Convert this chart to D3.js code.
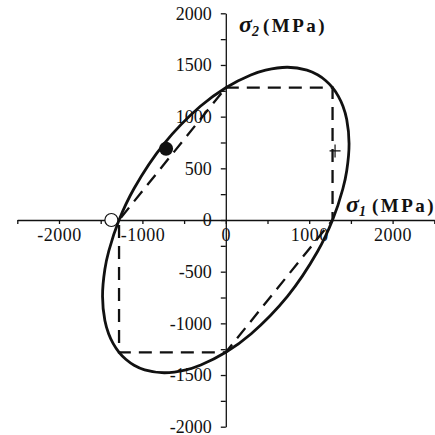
<!DOCTYPE html>
<html lang="en">
<head>
    <meta charset="UTF-8">
    <title>Yield criteria</title>
    <script src="https://d3js.org/d3.v7.min.js"></script>
    <style>
        body { margin: 0; background: #fff; }
        svg text { font-family: "Liberation Serif", "Times New Roman", serif; fill: #111; }
        .axis path, .axis line { stroke: #111; stroke-width: 1.3; }
    </style>
</head>
<body>
<div id="chart"></div>
<script>
    // von Mises ellipse (MPa)
    const vonMisesS1 = [1280, 1403, 1450, 1478, 1450, 1405, 1350, 1280, 1196, 1100, 973, 739, 477, 300, 0, -305, -739, -1100,
        -1280, -1403, -1450, -1478, -1450, -1405, -1350, -1280, -1196, -1100, -973, -739, -477, -300, 0, 305, 739, 1100];
    const vonMisesS2 = [0, 300, 477, 739, 973, 1100, 1196, 1280, 1350, 1405, 1450, 1478, 1450, 1403, 1280, 1100, 739, 305,
        0, -300, -477, -739, -973, -1100, -1196, -1280, -1350, -1405, -1450, -1478, -1450, -1403, -1280, -1100, -739, -305];

    // Tresca hexagon corners
    const trescaS1 = [0, 1280, 1280, 0, -1280, -1280];
    const trescaS2 = [1280, 1280, 0, -1280, -1280, 0];

    // single markers
    const filledPoint = [-716, 690];
    const openPoint = [-1372, 0];
    const crossPoint = [1310, 668];

    const xTickValues = [-2500, -2000, -1500, -1000, -500, 0, 500, 1000, 1500, 2000, 2500];
    const xTickLabels = [-2000, -1000, 0, 1000, 2000];
    const yTickValues = [-2000, -1750, -1500, -1250, -1000, -750, -500, -250, 0, 250, 500, 750, 1000, 1250, 1500, 1750, 2000];
    const yTickLabels = [-2000, -1500, -1000, -500, 0, 500, 1000, 1500, 2000];

    const width = 435, height = 435;

    const svg = d3.select("#chart").append("svg")
        .attr("width", width)
        .attr("height", height);

    const x = d3.scaleLinear().domain([-2500, 2500]).range([17.3, 434.3]);
    const y = d3.scaleLinear().domain([-2000, 2000]).range([426.7, 13.3]);

    // axes cross at origin
    svg.append("g")
        .attr("class", "axis")
        .attr("transform", `translate(0,${y(0)})`)
        .call(d3.axisBottom(x)
            .tickValues(xTickValues)
            .tickSize(4)
            .tickSizeOuter(0)
            .tickPadding(4)
            .tickFormat(d => xTickLabels.includes(d) ? d : ""))
        .call(g => g.selectAll("text").attr("font-size", 18).attr("letter-spacing", 0.5));

    svg.append("g")
        .attr("class", "axis")
        .attr("transform", `translate(${x(0)},0)`)
        .call(d3.axisLeft(y)
            .tickValues(yTickValues)
            .tickSize(5)
            .tickSizeOuter(0)
            .tickPadding(9)
            .tickFormat(d => yTickLabels.includes(d) ? d : ""))
        .call(g => g.selectAll("text").attr("font-size", 18));

    svg.selectAll(".axis .domain").attr("fill", "none");

    // Tresca (dashed)
    const tresca = trescaS1.map((s, i) => [s, trescaS2[i]]);
    svg.append("path")
        .datum(tresca)
        .attr("fill", "none")
        .attr("stroke", "#111")
        .attr("stroke-width", 2.3)
        .attr("stroke-dasharray", "13,8")
        .attr("d", d3.line().x(d => x(d[0])).y(d => y(d[1])).curve(d3.curveLinearClosed));

    // von Mises (solid)
    const mises = vonMisesS1.map((s, i) => [s, vonMisesS2[i]]);
    svg.append("path")
        .datum(mises)
        .attr("fill", "none")
        .attr("stroke", "#111")
        .attr("stroke-width", 2.8)
        .attr("d", d3.line().x(d => x(d[0])).y(d => y(d[1])).curve(d3.curveCatmullRomClosed));

    // markers
    svg.append("circle")
        .attr("cx", x(filledPoint[0])).attr("cy", y(filledPoint[1]))
        .attr("r", 7).attr("fill", "#111");

    svg.append("circle")
        .attr("cx", x(openPoint[0])).attr("cy", y(openPoint[1]))
        .attr("r", 6.5).attr("fill", "#fff").attr("stroke", "#111").attr("stroke-width", 1.2);

    svg.append("path")
        .attr("d", `M${x(crossPoint[0]) - 5.5},${y(crossPoint[1])}h11M${x(crossPoint[0])},${y(crossPoint[1]) - 6.5}v13`)
        .attr("stroke", "#111")
        .attr("stroke-width", 1.2);

    // axis titles
    function axisTitle(tx, ty, sub, mx) {
        const t = svg.append("text").attr("x", tx).attr("y", ty).attr("font-weight", "bold");
        t.append("tspan").attr("font-style", "italic").attr("font-size", 24).text("σ");
        t.append("tspan").attr("font-style", "italic").attr("font-size", 14).attr("dy", 4).text(sub);
        t.append("tspan").attr("x", mx).attr("dy", -4).attr("font-size", 19).attr("letter-spacing", 2.5).text("(MPa)");
    }
    axisTitle(239, 31.5, "2", 263);
    axisTitle(346, 211.5, "1", 372);
</script>
</body>
</html>
